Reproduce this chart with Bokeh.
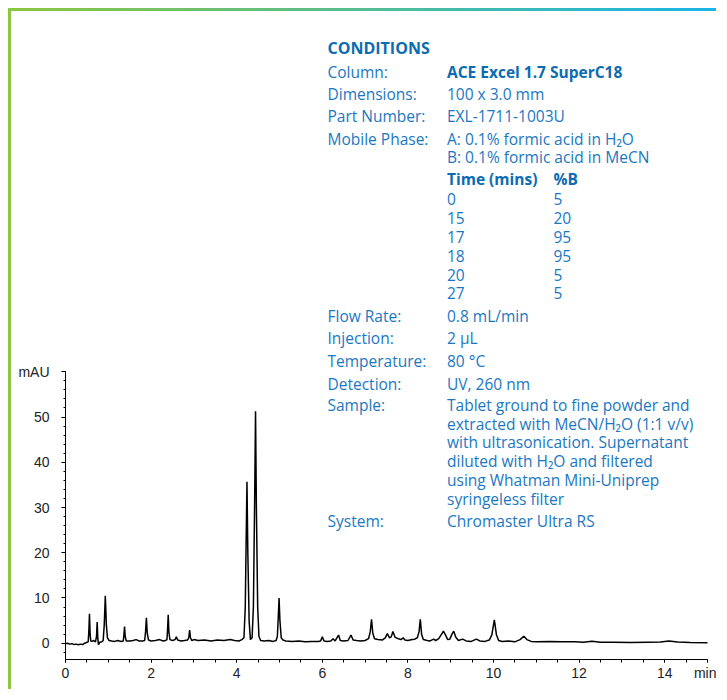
from bokeh.plotting import figure
from bokeh.models import Range1d, FixedTicker, Label
from bokeh.embed import file_html
from bokeh.resources import INLINE

# ---------------- data ----------------
time_min = [
    0.00, 0.05, 0.10, 0.15, 0.20, 0.25, 0.30, 0.35, 0.40, 0.45, 0.50,
    0.53, 0.545, 0.56, 0.575, 0.59, 0.62, 0.66, 0.70,
    0.725, 0.74, 0.755, 0.77, 0.80, 0.85,
    0.88, 0.905, 0.93, 0.955, 0.98, 1.02, 1.08, 1.15, 1.22, 1.30,
    1.35, 1.365, 1.38, 1.395, 1.42, 1.50, 1.58, 1.65, 1.72, 1.80,
    1.85, 1.87, 1.89, 1.91, 1.94, 2.00, 2.10, 2.20, 2.28, 2.34,
    2.37, 2.385, 2.40, 2.415, 2.44, 2.50,
    2.56, 2.59, 2.62, 2.70, 2.78, 2.85,
    2.88, 2.90, 2.92, 2.95, 3.00, 3.10, 3.25, 3.40, 3.55, 3.70, 3.85, 3.95, 4.05, 4.12,
    4.17, 4.20, 4.22, 4.24, 4.26, 4.29, 4.32,
    4.36, 4.39, 4.42, 4.44, 4.46, 4.49, 4.52, 4.56, 4.65, 4.75, 4.85, 4.92,
    4.95, 4.97, 4.99, 5.01, 5.04, 5.08, 5.15, 5.30, 5.45, 5.60, 5.75, 5.90,
    5.96, 6.00, 6.04, 6.12, 6.20, 6.25, 6.30, 6.38, 6.42, 6.50, 6.60, 6.67, 6.72,
    6.80, 6.90, 7.00, 7.08,
    7.12, 7.15, 7.18, 7.22, 7.30, 7.40, 7.47, 7.52, 7.57, 7.61, 7.65, 7.70, 7.78,
    7.84, 7.89, 7.93, 8.00, 8.10, 8.16, 8.22,
    8.26, 8.29, 8.32, 8.36, 8.45, 8.52, 8.60, 8.65, 8.72, 8.78, 8.83, 8.88, 8.93,
    8.98, 9.03, 9.07, 9.12, 9.18, 9.28, 9.36, 9.48, 9.60, 9.68, 9.80, 9.90,
    9.96, 10.02, 10.07, 10.12, 10.20, 10.35, 10.50, 10.62, 10.71, 10.78, 10.88,
    11.00, 11.30, 11.60, 11.90, 12.10, 12.30, 12.50, 12.80, 13.20, 13.60, 13.90,
    14.10, 14.30, 14.60, 15.00,
]
absorbance_mau = [
    -0.1, 0.0, -0.2, -0.1, -0.3, -0.2, -0.35, -0.2, -0.3, 0.0, 0.2,
    0.3, 2.5, 6.5, 2.0, 0.5, 0.4, 0.6, 0.3,
    1.5, 4.7, 1.0, -0.3, 0.2, 0.3,
    0.6, 4.0, 10.5, 4.0, 1.2, 0.6, 0.5, 0.4, 0.6, 0.4,
    0.5, 1.8, 3.7, 1.5, 0.5, 0.5, 0.6, 0.8, 0.5, 0.5,
    0.6, 2.5, 5.6, 2.2, 0.7, 0.5, 0.6, 0.8, 0.5, 0.6,
    0.8, 3.0, 6.3, 2.5, 0.8, 0.6,
    0.8, 1.4, 0.7, 0.5, 0.6, 0.7,
    1.2, 2.9, 1.2, 0.6, 0.8, 0.6, 0.7, 0.5, 0.7, 0.6, 0.8, 0.6, 0.5, 0.8,
    1.2, 8.0, 22.0, 35.7, 20.0, 5.0, 0.8,
    1.2, 8.0, 32.0, 51.3, 30.0, 8.0, 1.5, 0.6, 0.5, 0.6, 0.4, 0.6,
    1.5, 5.5, 10.0, 5.0, 1.2, 0.7, 0.5, 0.4, 0.5, 0.3, 0.4, 0.4,
    0.5, 1.4, 0.5, 0.4, 0.5, 1.0, 0.5, 1.8, 0.6, 0.5, 0.6, 1.8, 0.7,
    0.6, 0.5, 0.6, 1.0,
    2.5, 5.3, 2.2, 1.0, 0.8, 0.7, 1.2, 2.1, 1.2, 1.4, 2.6, 1.3, 1.0,
    0.8, 1.2, 0.7, 0.6, 0.8, 0.9, 1.2,
    2.5, 5.3, 2.0, 0.8, 0.6, 0.5, 0.9, 0.6, 1.0, 1.9, 2.65, 1.8, 0.8,
    0.9, 2.0, 2.65, 1.3, 0.6, 0.9, 0.5, 0.4, 0.9, 0.5, 0.4, 0.7,
    1.8, 5.15, 1.8, 0.6, 0.4, 0.5, 0.3, 0.8, 1.55, 0.8, 0.4,
    0.3, 0.4, 0.3, 0.3, 0.2, 0.45, 0.2, 0.2, 0.15, 0.2, 0.25,
    0.5, 0.25, 0.15, 0.1,
]

x_major_ticks = [0, 2, 4, 6, 8, 10, 12, 14, 15]
x_minor_ticks = [i * 0.5 for i in range(31)]
x_tick_labels = {0: "0", 2: "2", 4: "4", 6: "6", 8: "8", 10: "10", 12: "12", 14: "14", 15: "min"}
y_major_ticks = [0, 10, 20, 30, 40, 50, 60]
y_minor_ticks = [v for v in range(-2, 61, 2)]
y_tick_labels = {0: "0", 10: "10", 20: "20", 30: "30", 40: "40", 50: "50", 60: "mAU"}
x_axis_span = (0, 15)
y_axis_span = (-3.6, 60)

conditions_title = "CONDITIONS"
cond_labels = ["Column:", "Dimensions:", "Part Number:", "Mobile Phase:",
               "Flow Rate:", "Injection:", "Temperature:", "Detection:", "Sample:", "System:"]
cond_values = [
    ["ACE Excel 1.7 SuperC18"],
    ["100 x 3.0 mm"],
    ["EXL-1711-1003U"],
    ["A: 0.1% formic acid in H\u2082O", "B: 0.1% formic acid in MeCN"],
    ["0.8 mL/min"],
    ["2 \u00b5L"],
    ["80 \u00b0C"],
    ["UV, 260 nm"],
    ["Tablet ground to fine powder and", "extracted with MeCN/H\u2082O (1:1 v/v)",
     "with ultrasonication. Supernatant", "diluted with H\u2082O and filtered",
     "using Whatman Mini-Uniprep", "syringeless filter"],
    ["Chromaster Ultra RS"],
]
gradient_header = ["Time (mins)", "%B"]
gradient_time = ["0", "15", "17", "18", "20", "27"]
gradient_b = ["5", "20", "95", "95", "5", "5"]

# ---------------- layout ----------------
BLUE = "#1a78c2"
BLUE_B = "#0b6bb3"
FONT = "Open Sans"

W, H = 708, 681          # canvas; placed at page (11, 11) by the 8px margin + 3px border
BL, BB = 54, 33.5
PX_PER_MIN = 42.8
PX_PER_MAU = 4.52
FRAME_LEFT_PAGE = 65.0     # page x of t = 0
ZERO_PAGE_Y = 642.3        # page y of 0 mAU
TEXT_SHIFT = -5.5          # baseline correction for the text block

# frame spans the whole canvas above/right of the axes so that the text is not clipped
x_end = (W - BL) / PX_PER_MIN
y_end = (H - BB) / PX_PER_MAU + y_axis_span[0]

p = figure(width=W, height=H, output_backend="svg", toolbar_location=None,
           x_range=Range1d(0, x_end), y_range=Range1d(y_axis_span[0], y_end),
           min_border_left=BL, min_border_right=0, min_border_top=0, min_border_bottom=int(BB))
p.styles = {
    "margin-left": "8px",
    "margin-top": "8px",
    "border-left": "3px solid #8cc63f",
    "border-top": "3px solid #8cc63f",
    "border-image": "linear-gradient(to right, #8cc63f, #1ab4e8) 1",
}
p.outline_line_color = None
p.grid.visible = False
p.background_fill_color = "white"
p.border_fill_color = "white"

p.line(time_min, absorbance_mau, line_color="black", line_width=1.5)

for ax in (p.xaxis[0], p.yaxis[0]):
    ax.axis_line_color = "black"
    ax.axis_line_width = 1
    ax.major_tick_line_color = "black"
    ax.minor_tick_line_color = "black"
    ax.major_tick_in = 0
    ax.minor_tick_in = 0
    ax.major_label_text_font = "Liberation Sans"
    ax.major_label_text_font_size = "14px"
    ax.major_label_text_color = "#222222"

xa = p.xaxis[0]
xa.ticker = FixedTicker(ticks=x_major_ticks, minor_ticks=x_minor_ticks)
xa.major_label_overrides = x_tick_labels
xa.bounds = x_axis_span
xa.major_tick_out = 3
xa.minor_tick_out = 3
xa.major_label_standoff = 2

ya = p.yaxis[0]
ya.ticker = FixedTicker(ticks=y_major_ticks, minor_ticks=y_minor_ticks)
ya.major_label_overrides = y_tick_labels
ya.bounds = y_axis_span
ya.major_tick_out = 4
ya.minor_tick_out = 2
ya.major_label_standoff = 12


def add_text(txt, px, py, bold=False, size="15.5px"):
    # page pixel position -> chart coordinates, so text stays aligned with the axes
    p.add_layout(Label(x=(px - FRAME_LEFT_PAGE) / PX_PER_MIN,
                       y=(ZERO_PAGE_Y - (py + TEXT_SHIFT)) / PX_PER_MAU,
                       text=txt, text_font=FONT, text_font_size=size,
                       text_font_style="bold" if bold else "normal",
                       text_color=BLUE_B if bold else BLUE,
                       text_align="left", text_baseline="alphabetic"))


LX, VX, BX = 327, 446.5, 553
add_text(conditions_title, LX, 52.7, bold=True, size="16px")
label_baselines = [76.6, 98.6, 121.0, 143.6, 320.8, 343.3, 365.8, 388.3, 409.5, 525.7]
for lab, vals, yb in zip(cond_labels, cond_values, label_baselines):
    add_text(lab, LX, yb)
    step = 18.0 if lab.startswith("Mobile") else 18.85
    for k, v in enumerate(vals):
        add_text(v, VX, yb + k * step, bold=(lab == "Column:"))

add_text(gradient_header[0], VX, 183.5, bold=True)
add_text(gradient_header[1], BX, 183.5, bold=True)
for k, (t, b) in enumerate(zip(gradient_time, gradient_b)):
    yb = 204.0 + k * 18.85
    add_text(t, VX, yb)
    add_text(b, BX, yb)

open("out.html", "w").write(file_html(p, INLINE))
